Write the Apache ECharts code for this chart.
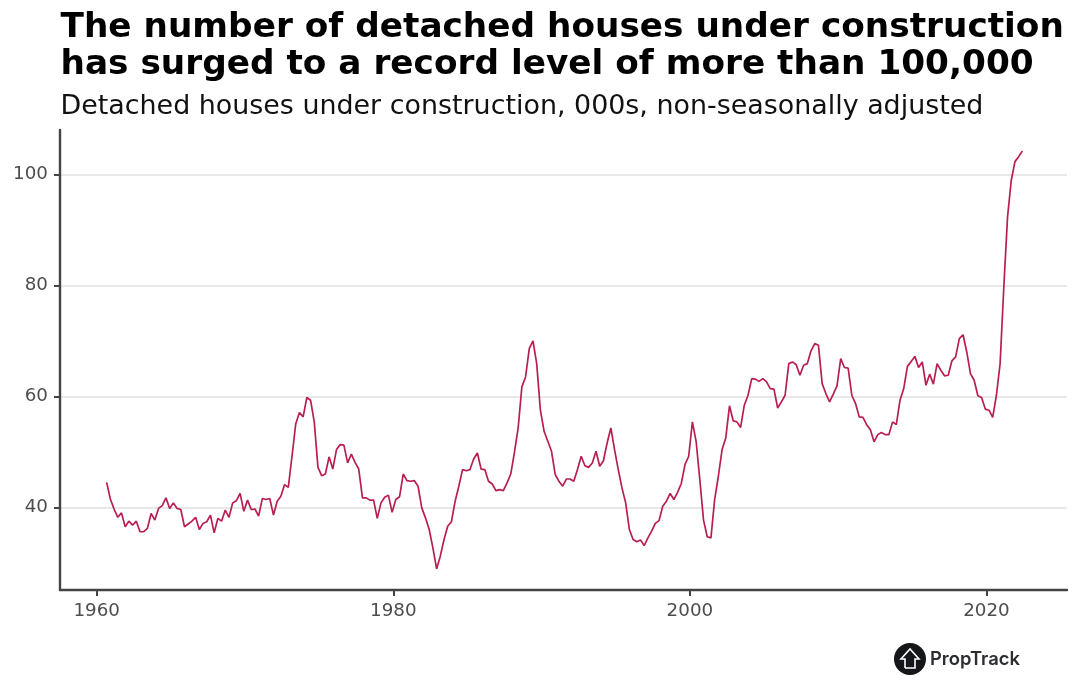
<!DOCTYPE html>
<html>
<head>
	<meta charset="utf-8" />
	<title>Detached houses under construction</title>
	<script src="https://cdn.jsdelivr.net/npm/echarts@6/dist/echarts.min.js"></script>
	<style>
		html, body {margin:0;padding:0;background:#fff;}
		#chart {width:1080px;height:687px;}
	</style>
</head>
<body>
	<div id="chart"></div>

	<script>
		var titleText = 'The number of detached houses under construction\nhas surged to a record level of more than 100,000';
		var subtitleText = 'Detached houses under construction, 000s, non-seasonally adjusted';

		var firstQuarter = 1960.67; // Sep quarter 1960
		var yearTicks = [1960, 1980, 2000, 2020];
		var valueTicks = [40, 60, 80, 100];

		// quarterly, 000s
		var values1960s = [
			44.5, 41.5, 39.7, 38.2, 39, 36.5, 37.5, 36.8, 37.5, 35.6, 35.6, 36.2, 38.9, 37.7, 39.8, 40.3,
			41.7, 39.8, 40.8, 39.8, 39.6, 36.5, 37, 37.5, 38.2, 36, 37.1, 37.4, 38.6, 35.4, 38, 37.5,
			39.5, 38.2, 40.8, 41.2, 42.5, 39.3, 41.3, 39.6
		];
		var values1970s = [
			39.7, 38.4, 41.6, 41.4, 41.6, 38.6, 41.1, 42, 44.1, 43.6, 49.2, 55, 57.1, 56.3, 59.8, 59.3,
			55.4, 47.2, 45.7, 46, 49.1, 46.9, 50.4, 51.3, 51.2, 48, 49.6, 48.1, 46.9, 41.7, 41.7, 41.3,
			41.3, 38, 40.8, 41.8, 42.2, 39.1, 41.4, 41.9
		];
		var values1980s = [
			46, 44.8, 44.7, 44.8, 43.8, 39.9, 38.1, 36, 32.7, 28.9, 31.2, 34.2, 36.6, 37.4, 41.1, 43.8,
			46.8, 46.6, 46.8, 48.7, 49.8, 46.9, 46.8, 44.7, 44.2, 43, 43.2, 43, 44.4, 46, 49.9, 54.3,
			61.7, 63.5, 68.6, 70, 65.9, 57.5, 53.7, 51.9, 50.1, 45.9, 44.7, 43.8
		];
		var values1990s = [
			45.1, 45.1, 44.7, 46.8, 49.2, 47.5, 47.2, 48, 50.1, 47.4, 48.4, 51.6, 54.3, 50.4, 46.8, 43.5,
			40.8, 36, 34.2, 33.8, 34.1, 33.1, 34.5, 35.7, 37.1, 37.6, 40.2, 41.1, 42.5, 41.4, 42.7, 44.3,
			47.7, 49.2, 55.4, 51.9, 45, 37.7, 34.7, 34.5, 41.4, 45.6
		];
		var values2000s = [
			50.4, 52.5, 58.3, 55.6, 55.4, 54.4, 58.4, 60.2, 63.2, 63.1, 62.7, 63.2, 62.6, 61.4, 61.3, 57.9,
			59, 60.2, 65.9, 66.2, 65.7, 63.8, 65.6, 65.9, 68.2, 69.5, 69.2, 62.3, 60.5, 59, 60.4, 61.9,
			66.8, 65.2, 65.1, 60.2, 58.7, 56.3, 56.2, 54.9
		];
		var values2010s = [
			54, 51.8, 53.1, 53.5, 53.1, 53.1, 55.4, 54.9, 59.3, 61.4, 65.4, 66.3, 67.2, 65.2, 66.2, 62,
			64, 62.2, 65.9, 64.7, 63.7, 63.8, 66.4, 67.1, 70.4, 71.1, 68, 64.1, 62.9, 60.1, 59.8, 57.7,
			57.5, 56.2, 60.2, 65.9, 79.7, 92.3, 98.9, 102.3, 103.2, 104.2
		];

		var values = [].concat(values1960s, values1970s, values1980s, values1990s, values2000s, values2010s);
		var seriesData = values.map(function(v, i) {
			return [firstQuarter + i * 0.25, v];
		});

		var chart = echarts.init(document.getElementById('chart'), null, {renderer: 'canvas'});

		var option = {
			animation: false,
			backgroundColor: '#ffffff',
			textStyle: {fontFamily: 'DejaVu Sans'},
			title: [
				{
					text: titleText,
					left: 60.5,
					top: 9.5,
					padding: 0,
					textStyle: {fontSize: 34.3, fontWeight: 'bold', color: '#000', lineHeight: 37, fontFamily: 'DejaVu Sans'}
				},
				{
					text: subtitleText,
					left: 60.5,
					top: 94,
					padding: 0,
					textStyle: {fontSize: 26.9, fontWeight: 'normal', color: '#111', fontFamily: 'DejaVu Sans'}
				}
			],
			grid: {left: 60, right: 13, top: 130, bottom: 97},
			xAxis: {
				type: 'value',
				min: 1957.525,
				max: 2025.43,
				axisLine: {show: true, onZero: false, lineStyle: {color: '#444', width: 2.4}},
				axisTick: {show: true, length: 6, customValues: yearTicks, lineStyle: {color: '#444', width: 2}},
				axisLabel: {
					customValues: yearTicks,
					color: '#4d4d4d',
					fontSize: 18.3,
					margin: 12,
					formatter: function(v) { return String(v); }
				},
				splitLine: {show: false}
			},
			yAxis: {
				type: 'value',
				min: 25.1,
				max: 108,
				axisLine: {show: true, onZero: false, lineStyle: {color: '#444', width: 2.4}},
				axisTick: {show: true, length: 6, customValues: valueTicks, lineStyle: {color: '#444', width: 2}},
				axisLabel: {
					customValues: valueTicks,
					color: '#4d4d4d',
					fontSize: 18.3,
					margin: 12,
					formatter: function(v) { return String(v); }
				},
				splitLine: {show: true, lineStyle: {color: '#e0e0e0', width: 1.5}}
			},
			series: [
				{
					type: 'line',
					data: seriesData,
					showSymbol: false,
					smooth: false,
					lineStyle: {color: '#b81f50', width: 1.7},
					z: 5
				}
			],
			graphic: [
				{type: 'circle', shape: {cx: 910, cy: 659, r: 16}, style: {fill: '#16171a'}},
				{
					type: 'polyline',
					shape: {points: [[905, 668], [905, 659], [901, 659], [910, 649], [919, 659], [915, 659], [915, 668], [905, 668]]},
					style: {fill: 'none', stroke: '#ffffff', lineWidth: 1.6}
				},
				{
					type: 'text',
					x: 930,
					y: 650,
					style: {text: 'PropTrack', fill: '#2b2d31', font: '600 18.4px Inter'}
				}
			]
		};

		chart.setOption(option);
	</script>
</body>
</html>
